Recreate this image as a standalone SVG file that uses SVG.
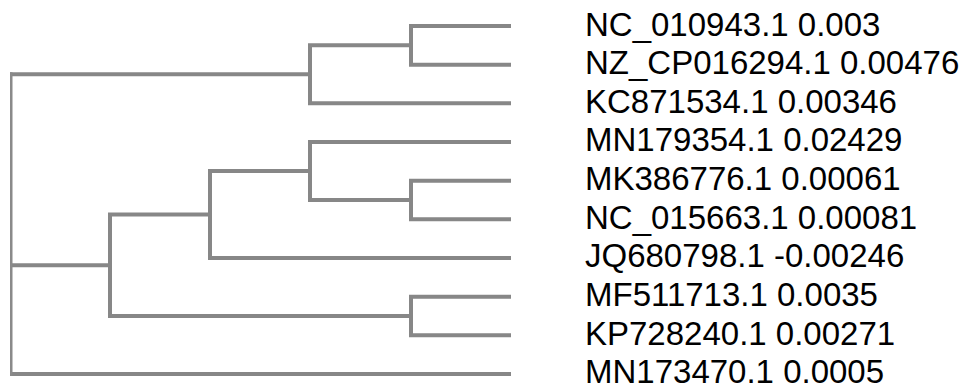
<svg xmlns="http://www.w3.org/2000/svg" width="965" height="389" viewBox="0 0 965 389">
<style>
.e{fill:none;stroke:#878787;stroke-width:4;stroke-linejoin:miter;stroke-linecap:butt}
.r{fill:none;stroke:#8a8a8a;stroke-width:2.5}
.t{font-family:"Liberation Sans",Arial,sans-serif;font-size:33px;fill:#000}
</style>
<rect width="965" height="389" fill="#fff"/>
<g id="connectors">
<path class="e" d="M511,26 H411 V64.7 H511"/>
<path class="e" d="M411,45.3 H310 V103.3 H511"/>
<path class="e" d="M511,180.7 H411 V219.3 H511"/>
<path class="e" d="M511,142 H310 V200 H411"/>
<path class="e" d="M310,171 H210 V258 H511"/>
<path class="e" d="M511,296.7 H411 V335.3 H511"/>
<path class="e" d="M210,214.5 H110 V316 H411"/>
<path class="e" d="M310,74.3 H10"/>
<path class="e" d="M110,265.3 H10"/>
<path class="e" d="M10,374 H511"/>
<path class="r" d="M11.25,72.3 V376"/>
</g>
<g id="leaf1"><text class="t" x="585" y="35.5">NC_010943.1 0.003</text></g>
<g id="leaf2"><text class="t" x="585" y="74">NZ_CP016294.1 0.00476</text></g>
<g id="leaf3"><text class="t" x="585" y="112.7">KC871534.1 0.00346</text></g>
<g id="leaf4"><text class="t" x="585" y="151.3">MN179354.1 0.02429</text></g>
<g id="leaf5"><text class="t" x="585" y="190">MK386776.1 0.00061</text></g>
<g id="leaf6"><text class="t" x="585" y="228.7">NC_015663.1 0.00081</text></g>
<g id="leaf7"><text class="t" x="585" y="267.3">JQ680798.1 -0.00246</text></g>
<g id="leaf8"><text class="t" x="585" y="306">MF511713.1 0.0035</text></g>
<g id="leaf9"><text class="t" x="585" y="344.7">KP728240.1 0.00271</text></g>
<g id="leaf10"><text class="t" x="585" y="383.3">MN173470.1 0.0005</text></g>
</svg>
